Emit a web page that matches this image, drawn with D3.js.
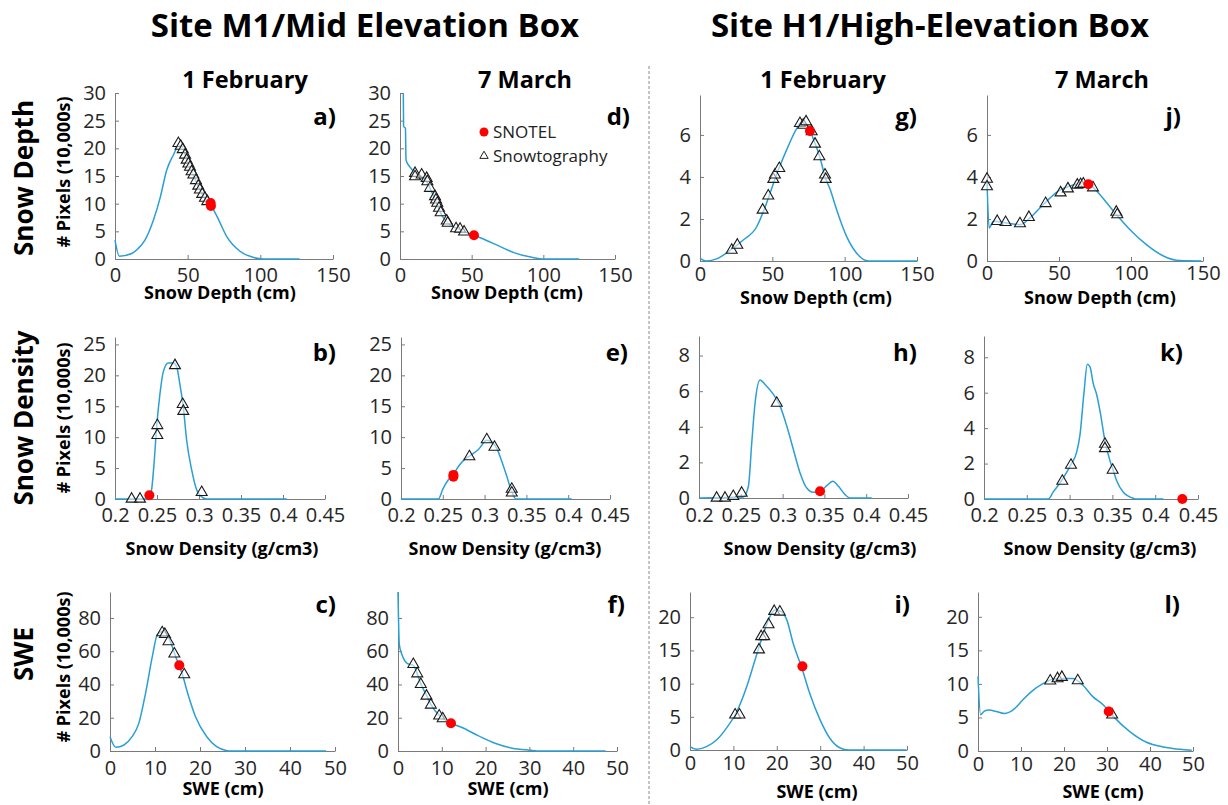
<!DOCTYPE html>
<html>
<head>
<meta charset="utf-8">
<script src="https://cdn.jsdelivr.net/npm/d3@7"></script>
<style>
  body { margin: 0; background: #fff; }
  svg { font-family: "Open Sans", sans-serif; }
</style>
</head>
<body>
<svg id="chart"></svg>
<script>
// tick values
const depthTicks = [0, 50, 100, 150];
const densityTicks = [0.2, 0.25, 0.3, 0.35, 0.4, 0.45];
const sweTicks = [0, 10, 20, 30, 40, 50];
const m1DepthYTicks = [0, 5, 10, 15, 20, 25, 30];
const h1DepthYTicks = [0, 2, 4, 6];
const m1DensityYTicks = [0, 5, 10, 15, 20, 25];
const h1DensityYTicks = [0, 2, 4, 6, 8];
const m1SweYTicks = [0, 20, 40, 60, 80];
const h1SweYTicks = [0, 5, 10, 15, 20];

// a) M1 depth, 1 February
const curveA = [[0,3.4],[3,0.5],[11.5,1.0],[16,1.9],[20.6,3.4],[26.4,7.0],[31,11],[35.6,16.1],[40.2,18.8],[44,20.6],[47,19.8],[50,17.6],[54,15.1],[58,12.8],[62,10.9],[66,9.7],[70,7.8],[77,4.0],[86,1.4],[95,0.3],[102,0],[127,0]];
const triA = [[43.6,20.9],[45.2,20.4],[46.6,19.8],[48.2,18.8],[49.3,17.9],[50.5,17.2],[51.6,16.6],[52.7,15.8],[53.9,15.2],[55.7,14.2],[57.3,13.2],[58.4,12.5],[60.0,11.7],[61.9,11.0],[63.5,10.4]];
const snotelA = [[65.8,10.1],[66,9.6]];

// d) M1 depth, 7 March
const curveD = [[2.3,30],[2.5,24],[3.8,23.6],[4.2,17.9],[7,16.6],[10.5,15.6],[15,14.9],[19,13.8],[22,12.2],[26,9.8],[29,8.0],[32,6.9],[36,6.0],[40,5.5],[45,4.9],[51.6,4.3],[60,3.4],[67,2.6],[80,1.1],[92,0.3],[100,0],[125,0]];
const triD = [[10.5,15.5],[10.5,14.9],[15.1,15.2],[18.6,14.6],[19.1,14.0],[20.9,12.8],[24.4,11.3],[25.1,10.7],[26.0,10.1],[27.2,9.2],[28.4,8.4],[32.6,6.9],[33.3,6.5],[39.1,5.5],[41.9,5.4],[44.7,4.9]];
const snotelD = [[51.6,4.3]];

// g) H1 depth, 1 February
const curveG = [[0,0.13],[4.6,0],[11.5,0.1],[20.7,0.5],[29.9,1.0],[39.2,1.63],[43.8,2.35],[48.4,3.22],[54.1,4.33],[59.9,5.29],[66.8,6.3],[70,6.6],[73,6.55],[76,6.2],[79.5,5.6],[83,4.9],[86.5,4.0],[90,3.4],[94.5,2.43],[101.4,1.16],[108.3,0.37],[116.4,0],[150,0]];
const triG = [[21.9,0.52],[25.8,0.76],[43.3,2.43],[47.2,3.10],[50.7,3.89],[51.8,4.1],[54.8,4.41],[69.1,6.55],[71.4,6.47],[73.3,6.63],[77.2,6.16],[79.5,5.57],[82.5,4.97],[86.4,4.1],[86.9,3.89]];
const snotelG = [[76,6.19]];

// j) H1 depth, 7 March
const curveJ = [[0,3.8],[1.5,1.57],[4.4,1.89],[13.7,1.81],[22.9,1.73],[29.9,2.05],[39.1,2.69],[49.5,3.33],[57.6,3.57],[66.9,3.7],[71.5,3.63],[76.2,3.33],[83.1,2.77],[90,2.2],[99.3,1.49],[110.9,0.77],[122.5,0.24],[134,0.02],[149,0]];
const triJ = [[0,3.9],[0,3.54],[7.1,1.89],[12.9,1.84],[22.9,1.78],[29.1,2.08],[40.7,2.74],[51.1,3.25],[56.2,3.44],[62.7,3.62],[65,3.65],[66.9,3.67],[73.6,3.49],[89.8,2.33],[90.5,2.21]];
const snotelJ = [[70.4,3.65]];

// b) M1 density, 1 February
const curveB = [[0.2,0],[0.2408,0],[0.2436,1.5],[0.2468,6.3],[0.2496,11.7],[0.2536,17.1],[0.2575,20.6],[0.2635,22.0],[0.2694,22.0],[0.2734,21.4],[0.2774,18.4],[0.2813,14.9],[0.2853,9.5],[0.2913,4.7],[0.2972,1.5],[0.3052,0.16],[0.309,0],[0.4044,0]];
const triB = [[0.2198,0],[0.2298,0],[0.2504,11.9],[0.2504,10.3],[0.2714,21.6],[0.2806,15.3],[0.2813,14.2],[0.3032,1.07]];
const snotelB = [[0.2409,0.6]];

// e) M1 density, 7 March
const curveE = [[0.2,0],[0.2447,0],[0.25,1.6],[0.256,3.0],[0.2627,4.0],[0.27,5.5],[0.278,6.6],[0.2826,7.0],[0.2926,8.0],[0.3026,9.5],[0.3086,9.2],[0.3146,8.2],[0.3205,6.1],[0.3265,3.7],[0.3325,1.2],[0.3377,0],[0.4042,0]];
const triE = [[0.2818,6.86],[0.3026,9.6],[0.3118,8.4],[0.3325,1.6],[0.3325,1.0]];
const snotelE = [[0.2627,3.9],[0.2627,3.6]];

// h) H1 density, 1 February
const curveH = [[0.2,0],[0.253,0.06],[0.2591,0.66],[0.2631,3.1],[0.2671,5.35],[0.2731,6.63],[0.279,6.38],[0.289,5.82],[0.297,5.16],[0.305,4.04],[0.3129,2.72],[0.3209,1.41],[0.3289,0.56],[0.3369,0.32],[0.3448,0.38],[0.3528,0.69],[0.36,0.94],[0.3668,0.66],[0.3747,0.19],[0.3807,0],[0.4066,0]];
const triH = [[0.2211,0],[0.2311,0],[0.241,0.09],[0.251,0.28],[0.293,5.33]];
const snotelH = [[0.3448,0.38]];

// k) H1 density, 7 March
const curveK = [[0.2,0],[0.2751,0],[0.2809,0.4],[0.2915,1.1],[0.3016,1.95],[0.308,2.6],[0.3121,3.6],[0.3168,6.0],[0.3207,7.6],[0.3238,7.46],[0.3277,6.5],[0.3316,5.9],[0.3355,4.97],[0.3413,3.28],[0.3472,2.15],[0.3511,1.59],[0.355,1.03],[0.3628,0.38],[0.3745,0.04],[0.3784,0],[0.4096,0]];
const triK = [[0.2915,1.01],[0.3016,1.91],[0.3413,3.1],[0.3413,2.85],[0.3503,1.63]];
const snotelK = [[0.4317,0]];

// c) M1 SWE, 1 February
const curveC = [[0,8.6],[1.3,2.2],[3.1,3.6],[4.9,8.6],[6.4,16.6],[7.9,34.7],[9.4,56.7],[10.5,69.8],[11.6,71.8],[13.1,67.8],[14.6,56.7],[16.0,46.7],[17.5,32.6],[19.0,20.6],[21.5,8.6],[23.7,2.6],[26,0.2],[27,0],[48,0]];
const triC = [[11.6,71.2],[12.2,70.2],[13,65.8],[14.3,58.4],[16.5,45.9]];
const snotelC = [[15.4,51.5]];

// f) M1 SWE, 7 March
const curveF = [[0,95.6],[0.3,64],[0.9,58],[2.2,52.5],[3.5,51.5],[4.4,46.5],[5.2,40.5],[6.5,33.5],[7.5,28],[9.4,21.5],[10.2,19.8],[12.1,16.7],[14.6,14.1],[18.4,9.1],[22.3,4.5],[26.1,1.7],[30,0.5],[32.3,0],[47.4,0]];
const triF = [[3.5,52.1],[4.4,46.5],[5.2,40.1],[6.5,33.1],[7.5,27.7],[9.4,21.1],[10.2,19.5]];
const snotelF = [[12.1,16.7]];

// i) H1 SWE, 1 February
const curveI = [[0,0.5],[1.5,0.1],[3.8,0.5],[6.1,1.5],[8.4,3.3],[10.8,5.8],[13.1,9.6],[15.0,13.6],[16.9,17.5],[18.4,20.1],[19.6,21.1],[21.1,20.8],[22.3,19.6],[23.8,16.0],[25.7,12.5],[27.6,8.5],[30,4.5],[32.3,1.7],[34.6,0.3],[36.5,0],[49.9,0]];
const triI = [[10.4,5.3],[11.4,5.3],[15.9,15.1],[16.4,17.1],[17.1,17.1],[18.1,18.9],[19.4,20.9],[20.7,20.8]];
const snotelI = [[25.9,12.6]];

// l) H1 SWE, 7 March
const curveL = [[0,11.1],[0.6,5.4],[1.4,5.9],[2.6,6.1],[4.2,5.9],[6.1,5.6],[8.1,6.1],[10.4,7.6],[12.7,9.0],[15.0,10.0],[17.4,10.7],[19.7,10.8],[22.0,10.8],[24.4,9.8],[26.7,8.1],[29.1,6.9],[31.4,5.2],[35.3,2.9],[39.2,1.3],[43.1,0.6],[47,0.25],[49.7,0.1]];
const triL = [[16.8,10.45],[18.5,10.8],[19.5,11.0],[23.2,10.5],[31.2,5.4]];
const snotelL = [[30.4,5.9]];

const width = 1228;
const height = 805;
const lineColor = "#2a9fd5";
const axisColor = "#7a7a7a";

// panel layout
const panels = [
  { id: "a)", left: 115, right: 333, bottom: 259, top: 93, xMax: 150, xMin: 0, yMax: 30, xt: depthTicks, yt: m1DepthYTicks, curve: curveA, tri: triA, red: snotelA, pad: 9, lx: 336, ly: 125, xlabel: "Snow Depth (cm)", tx: 220, ty: 299 },
  { id: "d)", left: 400, right: 615, bottom: 259, top: 93, xMax: 150, xMin: 0, yMax: 30, xt: depthTicks, yt: m1DepthYTicks, curve: curveD, tri: triD, red: snotelD, pad: 9, lx: 630, ly: 125, xlabel: "Snow Depth (cm)", tx: 507, ty: 299 },
  { id: "g)", left: 700, right: 917, bottom: 261, top: 95, xMax: 150, xMin: 0, yMax: 7.9, xt: depthTicks, yt: h1DepthYTicks, curve: curveG, tri: triG, red: snotelG, pad: 6, lx: 917, ly: 125, xlabel: "Snow Depth (cm)", tx: 816, ty: 304 },
  { id: "j)", left: 987, right: 1203, bottom: 261, top: 95, xMax: 150, xMin: 0, yMax: 7.9, xt: depthTicks, yt: h1DepthYTicks, curve: curveJ, tri: triJ, red: snotelJ, pad: 5, lx: 1181, ly: 125, xlabel: "Snow Depth (cm)", tx: 1100, ty: 304 },
  { id: "b)", left: 115, right: 325, bottom: 499, top: 337, xMax: 0.45, xMin: 0.2, yMax: 26.2, xt: densityTicks, yt: m1DensityYTicks, curve: curveB, tri: triB, red: snotelB, pad: 9, lx: 336, ly: 361, xlabel: "Snow Density (g/cm3)", tx: 222, ty: 555 },
  { id: "e)", left: 401, right: 610, bottom: 499, top: 337, xMax: 0.45, xMin: 0.2, yMax: 26.2, xt: densityTicks, yt: m1DensityYTicks, curve: curveE, tri: triE, red: snotelE, pad: 9, lx: 628, ly: 361, xlabel: "Snow Density (g/cm3)", tx: 505, ty: 555 },
  { id: "h)", left: 699, right: 908, bottom: 498, top: 336, xMax: 0.45, xMin: 0.2, yMax: 9.1, xt: densityTicks, yt: h1DensityYTicks, curve: curveH, tri: triH, red: snotelH, pad: 10, lx: 917, ly: 361, xlabel: "Snow Density (g/cm3)", tx: 820, ty: 555 },
  { id: "k)", left: 984, right: 1198, bottom: 499, top: 336, xMax: 0.45, xMin: 0.2, yMax: 9.2, xt: densityTicks, yt: h1DensityYTicks, curve: curveK, tri: triK, red: snotelK, pad: 9, lx: 1183, ly: 361, xlabel: "Snow Density (g/cm3)", tx: 1100, ty: 555 },
  { id: "c)", left: 110, right: 335, bottom: 751, top: 592, xMax: 50, xMin: 0, yMax: 95.6, xt: sweTicks, yt: m1SweYTicks, curve: curveC, tri: triC, red: snotelC, pad: 10, lx: 336, ly: 613, xlabel: "SWE (cm)", tx: 223, ty: 795 },
  { id: "f)", left: 398, right: 617, bottom: 751, top: 592, xMax: 50, xMin: 0, yMax: 95.6, xt: sweTicks, yt: m1SweYTicks, curve: curveF, tri: triF, red: snotelF, pad: 10, lx: 625, ly: 613, xlabel: "SWE (cm)", tx: 508, ty: 795 },
  { id: "i)", left: 690, right: 907, bottom: 750, top: 592, xMax: 50, xMin: 0, yMax: 23.8, xt: sweTicks, yt: h1SweYTicks, curve: curveI, tri: triI, red: snotelI, pad: 6, lx: 910, ly: 613, xlabel: "SWE (cm)", tx: 817, ty: 798 },
  { id: "l)", left: 978, right: 1193, bottom: 751, top: 592, xMax: 50, xMin: 0, yMax: 23.7, xt: sweTicks, yt: h1SweYTicks, curve: curveL, tri: triL, red: snotelL, pad: 6, lx: 1180, ly: 613, xlabel: "SWE (cm)", tx: 1103, ty: 798 }
];

const svg = d3.select("#chart").attr("width", width).attr("height", height);

// main titles
svg.append("text").attr("x", 365).attr("y", 37).attr("text-anchor", "middle")
  .attr("font-size", 33).attr("font-weight", "bold").text("Site M1/Mid Elevation Box");
svg.append("text").attr("x", 930).attr("y", 37).attr("text-anchor", "middle")
  .attr("font-size", 33).attr("font-weight", "bold").text("Site H1/High-Elevation Box");

// column titles
[["1 February", 245], ["7 March", 525], ["1 February", 823], ["7 March", 1102]].forEach(([t, x]) => {
  svg.append("text").attr("x", x).attr("y", 88).attr("text-anchor", "middle")
    .attr("font-size", 23.5).attr("font-weight", "bold").text(t);
});

// row titles and y axis titles
[["Snow Depth", 178, 172], ["Snow Density", 418, 418], ["SWE", 654, 667]].forEach(([t, yc, yp]) => {
  svg.append("text").attr("transform", `translate(33,${yc}) rotate(-90)`)
    .attr("text-anchor", "middle").attr("font-size", 26).attr("font-weight", "bold").text(t);
  svg.append("text").attr("transform", `translate(70,${yp}) rotate(-90)`)
    .attr("text-anchor", "middle").attr("font-size", 18).attr("font-weight", "bold").text("# Pixels (10,000s)");
});

// dashed separator
svg.append("line").attr("x1", 649).attr("x2", 649).attr("y1", 66).attr("y2", height)
  .attr("stroke", "#8a8a8a").attr("stroke-width", 1).attr("stroke-dasharray", "3,2");

const tri = d3.symbol().type(d3.symbolTriangle).size(52);

panels.forEach((p) => {
  const x = d3.scaleLinear().domain([p.xMin, p.xMax]).range([p.left, p.right]);
  const y = d3.scaleLinear().domain([0, p.yMax]).range([p.bottom, p.top]);
  const g = svg.append("g");

  const xAxis = g.append("g").attr("transform", `translate(0,${p.bottom})`)
    .call(d3.axisBottom(x).tickValues(p.xt).tickFormat((d) => d)
      .tickSizeInner(-4).tickSizeOuter(0).tickPadding(p.pad));
  const yAxis = g.append("g").attr("transform", `translate(${p.left},0)`)
    .call(d3.axisLeft(y).tickValues(p.yt).tickFormat((d) => d)
      .tickSizeInner(-4).tickSizeOuter(0).tickPadding(9));
  [xAxis, yAxis].forEach((ax) => {
    ax.select(".domain").attr("stroke", axisColor);
    ax.selectAll(".tick line").attr("stroke", axisColor);
    ax.selectAll(".tick text").attr("fill", "#262626").attr("font-size", 20)
      .attr("font-family", "Open Sans, sans-serif");
  });

  // distribution curve
  g.append("path")
    .datum(p.curve)
    .attr("fill", "none")
    .attr("stroke", lineColor)
    .attr("stroke-width", 1.5)
    .attr("d", d3.line().x((d) => x(d[0])).y((d) => y(d[1])).curve(d3.curveMonotoneX));

  // snowtography points
  g.selectAll(".tri").data(p.tri).join("path")
    .attr("class", "tri")
    .attr("d", tri)
    .attr("transform", (d) => `translate(${x(d[0])},${y(d[1])})`)
    .attr("fill", "#fff").attr("fill-opacity", 0.55)
    .attr("stroke", "#1a1a1a").attr("stroke-width", 1.1);

  // snotel points
  g.selectAll(".red").data(p.red).join("circle")
    .attr("class", "red")
    .attr("cx", (d) => x(d[0])).attr("cy", (d) => y(d[1]))
    .attr("r", 5).attr("fill", "#ff0000");

  g.append("text").attr("x", p.lx).attr("y", p.ly).attr("text-anchor", "end")
    .attr("font-size", 24).attr("font-weight", "bold").text(p.id);
  g.append("text").attr("x", p.tx).attr("y", p.ty).attr("text-anchor", "middle")
    .attr("font-size", 18).attr("font-weight", "bold").text(p.xlabel);
});

// legend in panel d
const legend = svg.append("g");
legend.append("circle").attr("cx", 484).attr("cy", 132).attr("r", 4.5).attr("fill", "#ff0000");
legend.append("text").attr("x", 493).attr("y", 138).attr("font-size", 17).attr("fill", "#222").text("SNOTEL");
legend.append("path").attr("d", d3.symbol().type(d3.symbolTriangle).size(30)())
  .attr("transform", "translate(484,156)").attr("fill", "none").attr("stroke", "#222").attr("stroke-width", 1);
legend.append("text").attr("x", 493).attr("y", 162).attr("font-size", 17).attr("fill", "#222").text("Snowtography");
</script>
</body>
</html>
